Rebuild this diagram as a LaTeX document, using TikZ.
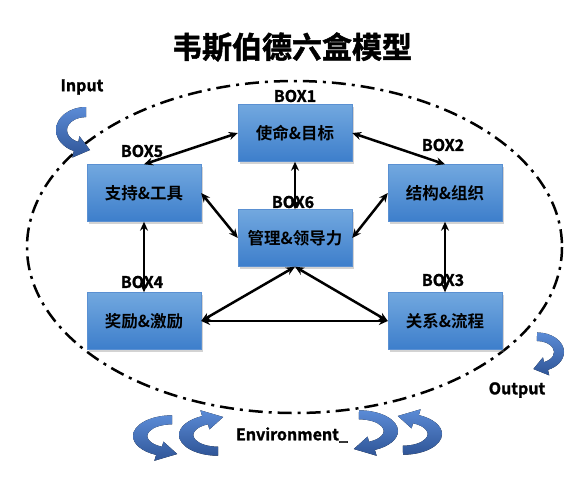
\documentclass[tikz,border=0pt]{standalone}
\usepackage{fontspec}
\setmainfont{Noto Sans CJK SC}[BoldFont={Noto Sans CJK SC Bold}]
\newfontfamily\heavy{Noto Sans CJK SC Bold}[RawFeature={embolden=1.5}]
\usetikzlibrary{arrows.meta,shadows}
\definecolor{boxtop}{HTML}{72A8DF}
\definecolor{boxbot}{HTML}{3D7ECB}
\definecolor{boxedge}{HTML}{5A90D2}
\definecolor{arrtop}{HTML}{5B8BD6}
\definecolor{arrbot}{HTML}{2F5597}
\tikzset{
  box/.style={rectangle, minimum width=114pt, minimum height=57pt,
    top color=boxtop, bottom color=boxbot, draw=boxedge, line width=0.4pt,
    font=\fontsize{16.5}{16.5}\selectfont\bfseries, text=black,
    drop shadow={opacity=0.35, shadow xshift=1.5pt, shadow yshift=-2pt}},
  lbl/.style={font=\fontsize{16}{16}\selectfont\heavy, inner sep=0pt},
  link/.style={line width=2.5pt, {Stealth[length=9pt,width=8pt]}-{Stealth[length=9pt,width=8pt]}},
  ring/.style={line width=2.5pt, dash pattern=on 14pt off 6pt on 3pt off 6pt},
  curv/.style={top color=arrtop, bottom color=arrbot, draw=none}
}
\newcommand\curvarrow[4]{%
  \begin{scope}[shift={(#1,#2)}, xscale=#3, yscale=#4]
    \fill[curv] (0,-23) arc[start angle=-90, end angle=-246, x radius=30, y radius=23]
      -- (-13.6,27.5) -- (4,20) -- (-6.6,6.2) -- (-7.7,11.9)
      arc[start angle=-246, end angle=-90, x radius=19, y radius=13] -- cycle;
  \end{scope}}
\begin{document}
\begin{tikzpicture}[x=1pt, y=-1pt]
\useasboundingbox (0,0) rectangle (585,483);
% title
\node[font=\fontsize{30}{30}\selectfont\heavy] (title) at (292,47) {韦斯伯德六盒模型};
% big dash-dot ellipse
\draw[ring] (294.5,247) ellipse [x radius=267.5, y radius=166];
% curved arrows
\curvarrow{86}{130}{1}{1}
\curvarrow{537}{352}{-0.9}{0.85}
\curvarrow{172}{436}{1.3}{0.9}
\curvarrow{218}{435}{1.3}{-0.9}
\curvarrow{359}{431}{-1.3}{0.9}
\curvarrow{403}{434}{-1.3}{-0.9}
% texts
\node[lbl] (in) at (82,87) {Input};
\node[lbl] (out) at (517,390) {Output};
\node[lbl] (env) at (292,435) {Environment\_};
% boxes
\node[box] (b1) at (295,133) {使命\&目标};
\node[box] (b6) at (295,238) {管理\&领导力};
\node[box] (b5) at (144,193) {支持\&工具};
\node[box] (b4) at (144,321) {奖励\&激励};
\node[box] (b2) at (445,193) {结构\&组织};
\node[box] (b3) at (445,321) {关系\&流程};
% box labels
\node[lbl] (l1) at (295,96) {BOX1};
\node[lbl] (l2) at (443,145) {BOX2};
\node[lbl] (l3) at (443,280) {BOX3};
\node[lbl] (l4) at (142,282) {BOX4};
\node[lbl] (l5) at (142,151) {BOX5};
\node[lbl] (l6) at (293,202) {BOX6};
% links
\draw[link] (b1.west) -- (b5.north);
\draw[link] (b1.east) -- (b2.north);
\draw[link] (b1.south) -- (b6.north);
\draw[link] (b5.east) -- (b6.west);
\draw[link] (b2.west) -- (b6.east);
\draw[link] (b5.south) -- (b4.north);
\draw[link] (b2.south) -- (b3.north);
\draw[link] (b6.south) -- (b4.east);
\draw[link] (b6.south) -- (b3.west);
\draw[link] (b4.east) -- (b3.west);
\end{tikzpicture}
\end{document}
